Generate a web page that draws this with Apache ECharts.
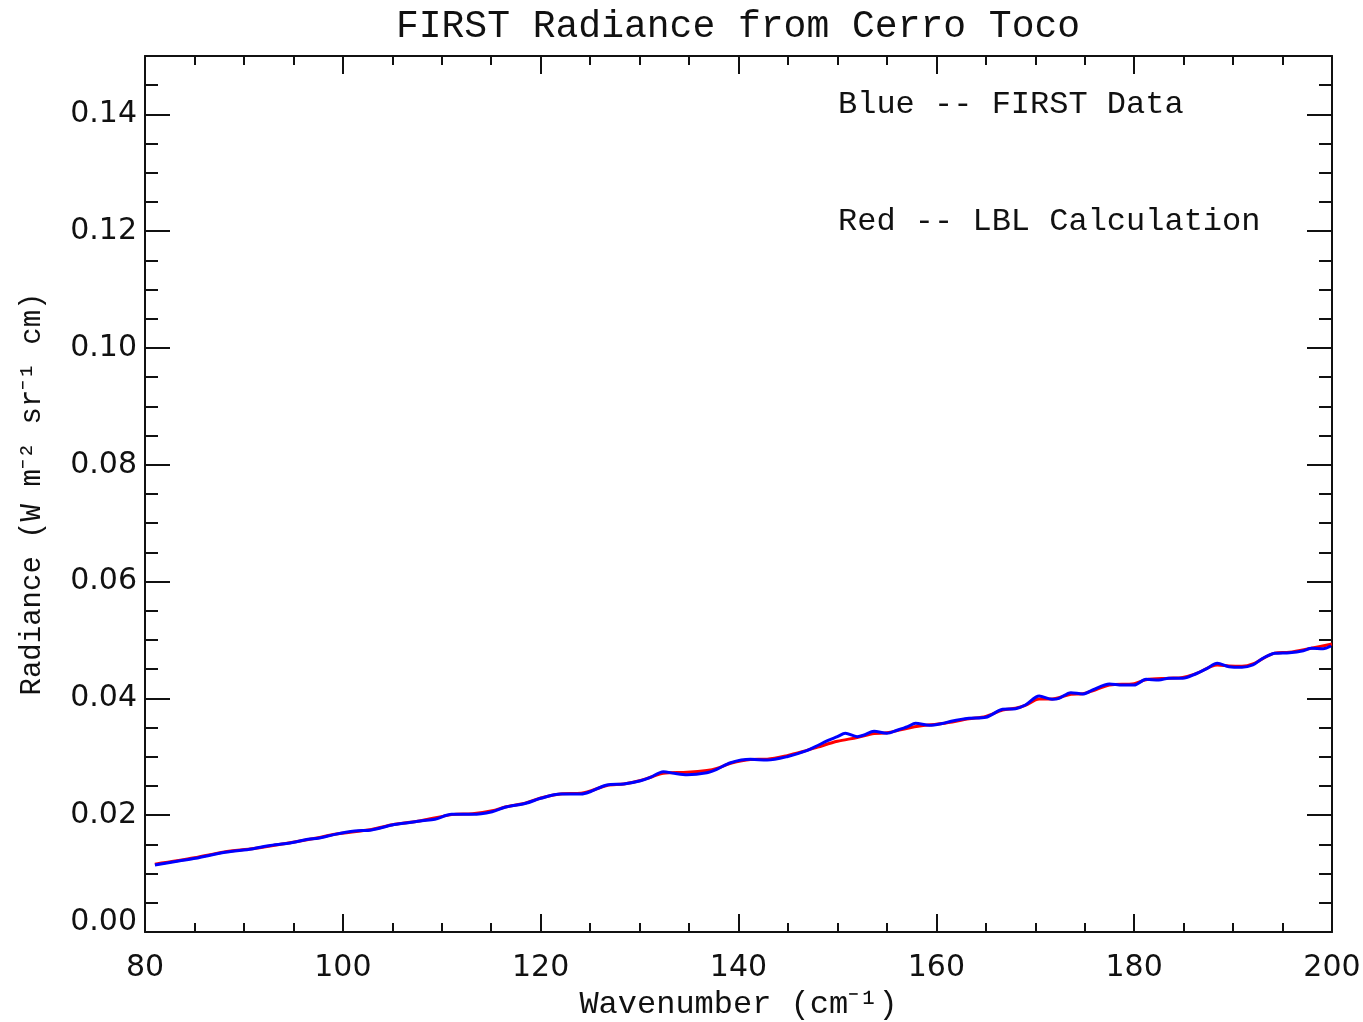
<!DOCTYPE html>
<html>
<head>
<meta charset="utf-8">
<script src="https://cdn.jsdelivr.net/npm/echarts@6/dist/echarts.min.js"></script>
<style>
  html, body { margin: 0; padding: 0; background: #fff; }
  #chart { width: 1363px; height: 1022px; }
</style>
</head>
<body>
<div id="chart"></div>
<script>
// FIRST 观测 (蓝) 与 LBL 计算 (红) 的辐亮度
const wnBlue = [81.0, 83.4, 85.1, 88.1, 90.8, 92.5, 94.5, 96.5, 97.5, 99.2,
  101.2, 102.9, 105.0, 106.6, 108.0, 109.3, 111.0, 113.1, 115.1, 116.4,
  118.5, 120.0, 122.0, 124.1, 125.0, 126.7, 128.4, 130.1, 131.1, 132.4,
  133.5, 134.8, 136.8, 137.8, 139.2, 141.2, 142.9, 144.9, 146.9, 147.9,
  149.0, 150.0, 150.8, 152.0, 152.7, 153.7, 155.0, 156.1, 157.1, 157.9,
  159.3, 160.6, 161.5, 163.3, 165.0, 166.7, 168.0, 169.0, 170.4, 171.7,
  172.4, 173.6, 174.8, 175.8, 177.5, 178.8, 180.0, 181.2, 182.5, 183.5,
  184.9, 186.2, 187.4, 188.4, 189.6, 190.9, 192.0, 193.0, 194.2, 195.7,
  197.1, 197.9, 199.1, 199.9];
const radBlue = [0.01147, 0.01216, 0.01262, 0.01365, 0.01421, 0.01478, 0.01518, 0.01587, 0.01604, 0.01672,
  0.01729, 0.01747, 0.01832, 0.01872, 0.01906, 0.01930, 0.02015, 0.02015, 0.02060, 0.02135,
  0.02204, 0.02289, 0.02363, 0.02363, 0.02402, 0.02517, 0.02534, 0.02591, 0.02649, 0.02745,
  0.02717, 0.02694, 0.02728, 0.02785, 0.02899, 0.02957, 0.02945, 0.03002, 0.03105, 0.03185,
  0.03276, 0.03345, 0.03402, 0.03345, 0.03373, 0.03436, 0.03402, 0.03459, 0.03516, 0.03573,
  0.03539, 0.03570, 0.03610, 0.03659, 0.03676, 0.03813, 0.03824, 0.03887, 0.04041, 0.03984,
  0.04000, 0.04098, 0.04075, 0.04144, 0.04247, 0.04229, 0.04229, 0.04327, 0.04315, 0.04344,
  0.04344, 0.04418, 0.04515, 0.04601, 0.04543, 0.04532, 0.04572, 0.04686, 0.04772, 0.04783,
  0.04817, 0.04858, 0.04851, 0.04897];

const wnRed = [81.0, 85.0, 88.0, 91.0, 94.5, 97.5, 99.2, 102.9, 105.0, 108.0,
  111.0, 113.1, 115.1, 116.4, 118.5, 120.0, 122.0, 124.1, 126.7, 128.4,
  130.1, 131.1, 132.4, 134.8, 136.8, 137.8, 139.2, 141.2, 142.9, 144.9,
  146.9, 148.0, 150.0, 152.0, 153.7, 155.0, 157.1, 158.5, 160.6, 163.3,
  165.0, 166.7, 168.0, 169.0, 170.4, 171.7, 173.6, 174.8, 175.8, 177.5,
  180.0, 181.2, 183.5, 184.9, 186.2, 188.4, 189.6, 190.9, 192.0, 194.2,
  195.7, 197.9, 200.0];
const radRed = [0.01160, 0.01270, 0.01370, 0.01430, 0.01525, 0.01615, 0.01675, 0.01755, 0.01835, 0.01910,
  0.02010, 0.02025, 0.02075, 0.02140, 0.02210, 0.02295, 0.02365, 0.02375, 0.02510, 0.02535,
  0.02595, 0.02650, 0.02720, 0.02735, 0.02765, 0.02800, 0.02890, 0.02955, 0.02960, 0.03020,
  0.03110, 0.03165, 0.03265, 0.03330, 0.03400, 0.03410, 0.03490, 0.03530, 0.03570, 0.03650,
  0.03690, 0.03800, 0.03830, 0.03880, 0.03990, 0.03990, 0.04070, 0.04080, 0.04130, 0.04230,
  0.04250, 0.04320, 0.04345, 0.04360, 0.04420, 0.04570, 0.04555, 0.04550, 0.04590, 0.04775,
  0.04790, 0.04860, 0.04930];

const titleText = 'FIRST Radiance from Cerro Toco';
const legendLines = ['Blue -- FIRST Data', 'Red -- LBL Calculation'];

const mono = 'Liberation Mono';
const sans = 'DejaVu Sans';
const ink = '#111';

function pairs(xs, ys) {
    return xs.map((x, i) => [x, ys[i]]);
}

// x 轴 (上下两条, 刻度朝内)
function xAxisDef(pos, showLabel) {
    return {
        type: 'value', position: pos, min: 80, max: 200, interval: 20,
        axisLine: {show: true, onZero: false, lineStyle: {color: ink, width: 2}},
        axisTick: {show: true, inside: true, length: 18, lineStyle: {color: ink, width: 2}},
        minorTick: {show: true, splitNumber: 4, length: 9, lineStyle: {color: ink, width: 2}},
        splitLine: {show: false},
        axisLabel: {show: showLabel, margin: 21, fontFamily: sans, fontSize: 30, color: ink},
        name: showLabel ? 'Wavenumber (cm⁻¹)' : '',
        nameLocation: 'middle', nameGap: 57,
        nameTextStyle: {fontFamily: mono, fontSize: 32, color: ink}
    };
}

// y 轴: 主刻度 0.02, 次刻度 0.005 单独一条轴
function yMajor(pos, showLabel) {
    return {
        type: 'value', position: pos, min: 0, max: 0.15, interval: 0.02,
        axisLine: {show: true, onZero: false, lineStyle: {color: ink, width: 2}},
        axisTick: {show: true, inside: true, length: 25, lineStyle: {color: ink, width: 2}},
        splitLine: {show: false},
        axisLabel: {
            show: showLabel, margin: 8, showMaxLabel: false,
            fontFamily: sans, fontSize: 30, color: ink,
            formatter: v => v === 0 ? '{z|0.00}' : v.toFixed(2),
            rich: {z: {fontFamily: sans, fontSize: 30, color: ink, padding: [0, 0, 20, 0]}}
        },
        name: showLabel ? 'Radiance (W m⁻² sr⁻¹ cm)' : '',
        nameLocation: 'middle', nameGap: 98, nameRotate: 90,
        nameTextStyle: {fontFamily: mono, fontSize: 29, color: ink}
    };
}
function yMinor(pos) {
    return {
        type: 'value', position: pos, min: 0, max: 0.15, interval: 0.005,
        axisLine: {show: false},
        axisTick: {show: true, inside: true, length: 13, lineStyle: {color: ink, width: 2}},
        splitLine: {show: false},
        axisLabel: {show: false}
    };
}

const option = {
    backgroundColor: '#fff',
    animation: false,
    grid: {left: 145, right: 31, top: 56, bottom: 90, outerBoundsMode: 'none', containLabel: false},
    xAxis: [xAxisDef('bottom', true), xAxisDef('top', false)],
    yAxis: [yMajor('left', true), yMinor('left'), yMajor('right', false), yMinor('right')],
    graphic: [
        {type: 'text', x: 738, y: 27, style: {text: titleText, fontFamily: mono, fontSize: 38,
            fill: ink, align: 'center', verticalAlign: 'middle'}},
        {type: 'text', x: 838, y: 105, style: {text: legendLines[0], fontFamily: mono, fontSize: 32,
            fill: ink, align: 'left', verticalAlign: 'middle'}},
        {type: 'text', x: 838, y: 222, style: {text: legendLines[1], fontFamily: mono, fontSize: 32,
            fill: ink, align: 'left', verticalAlign: 'middle'}}
    ],
    series: [
        {
            name: 'LBL Calculation', type: 'line', xAxisIndex: 0, yAxisIndex: 0,
            data: pairs(wnRed, radRed), showSymbol: false, smooth: 0.3,
            lineStyle: {color: '#ff0000', width: 3}
        },
        {
            name: 'FIRST Data', type: 'line', xAxisIndex: 0, yAxisIndex: 0,
            data: pairs(wnBlue, radBlue), showSymbol: false, smooth: 0.3,
            lineStyle: {color: '#0000ff', width: 3}
        }
    ]
};

const chart = echarts.init(document.getElementById('chart'));
chart.setOption(option);
</script>
</body>
</html>
